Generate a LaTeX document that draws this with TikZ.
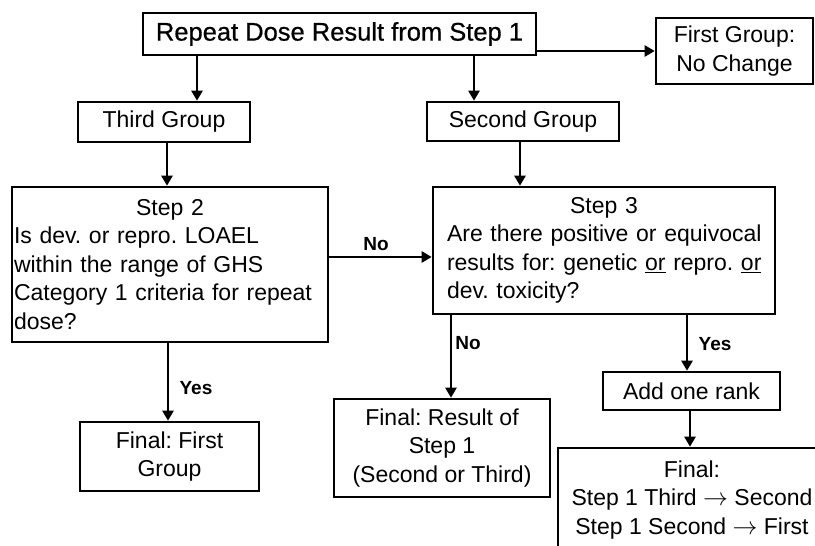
\documentclass[tikz,border=0pt]{standalone}
\usepackage{fontspec}
\setmainfont{Liberation Sans}
\newfontfamily\titlefont{Liberation Sans}[FakeBold=0.6]
\usetikzlibrary{arrows.meta}
\newcommand\bodyfont{\fontsize{23}{28.5}\selectfont\frenchspacing}
\newcommand\lblfont{\fontsize{19}{22}\selectfont\bfseries}
\newcommand\rarr{$\rightarrow$}
\begin{document}
\begin{tikzpicture}[x=1pt,y=-1pt,
  box/.style={draw, line width=2.6pt, inner sep=0pt, fill=white, font=\bodyfont, align=center},
  lbl/.style={font=\lblfont, inner sep=0pt},
  arr/.style={line width=2.4pt, -{Triangle[length=10pt,width=11pt]}}]
\useasboundingbox (0,0) rectangle (815,546);
\clip (0,0) rectangle (815,546);
\fill[white] (0,0) rectangle (815,546);

\node[box, minimum width=393pt, minimum height=42pt, font=\titlefont\fontsize{25.5}{30}\selectfont] (t) at (339.5,34) {Repeat Dose Result from Step 1};
\node[box, minimum width=157pt, minimum height=66pt] (fg) at (734.5,51) {First Group:\\No Change};
\node[box, minimum width=172pt, minimum height=40pt] (tg) at (164,122) {Third Group};
\node[box, minimum width=192pt, minimum height=39pt] (sg) at (523,121.5) {Second Group};
\node[box, minimum width=316pt, minimum height=155pt, text width=312pt, align=left] (s2) at (170,264.5)
  {\makebox[\linewidth]{Step 2}\\\mbox{Is dev. or repro. LOAEL}\\\mbox{within the range of GHS}\\\mbox{Category 1 criteria for repeat}\\dose?};
\node[box, minimum width=342pt, minimum height=127pt, text width=314pt, align=left] (s3) at (604,250.5)
  {\makebox[\linewidth]{Step 3}\\\mbox{Are there positive or equivocal}\\\mbox{results for: genetic \underline{or} repro. \underline{or}}\\\mbox{dev. toxicity?}};
\node[box, minimum width=179pt, minimum height=69pt] (ff) at (169.5,456.5) {Final: First\\Group};
\node[box, minimum width=216pt, minimum height=98pt] (fr) at (442,448) {Final: Result of\\Step 1\\(Second or Third)};
\node[box, minimum width=177pt, minimum height=38pt] (ar) at (691.5,391) {Add one rank};
\node[box, minimum width=268pt, minimum height=104pt] (fn) at (692,500) {Final:\\Step 1 Third \rarr{} Second\\Step 1 Second \rarr{} First};

\draw[arr] (t.south -| 197,0) -- (tg.north -| 197,0);
\draw[arr] (t.south -| 474,0) -- (sg.north -| 474,0);
\draw[arr] (t.east |- fg.west) -- (fg.west);
\draw[arr] (tg.south -| 167,0) -- (s2.north -| 167,0);
\draw[arr] (sg.south -| 520,0) -- (s3.north -| 520,0);
\draw[arr] (s2.east |- 0,257) -- (s3.west |- 0,257);
\draw[arr] (s2.south -| 168,0) -- (ff.north -| 168,0);
\draw[arr] (s3.south -| 451,0) -- (fr.north -| 451,0);
\draw[arr] (s3.south -| 687,0) -- (ar.north -| 687,0);
\draw[arr] (ar.south -| 690,0) -- (fn.north -| 690,0);

\node[lbl] (l1) at (376,244) {No};
\node[lbl] (l2) at (468,343) {No};
\node[lbl] (l3) at (715,344) {Yes};
\node[lbl] (l4) at (196,388) {Yes};
\end{tikzpicture}
\end{document}
